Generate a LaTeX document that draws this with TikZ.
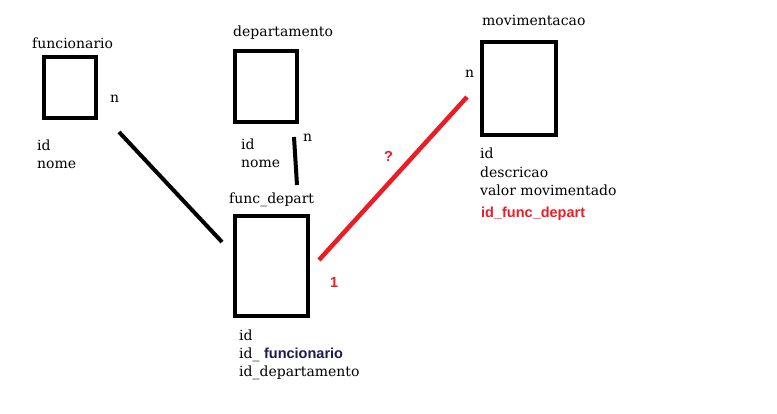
\documentclass[tikz,border=0pt]{standalone}
\usepackage{fontspec}
\setmainfont{DejaVu Serif}
\newfontfamily\boldsans{Liberation Sans}
\definecolor{paintred}{HTML}{ED1C24}
\definecolor{navy}{HTML}{1B1B50}
\begin{document}
\begin{tikzpicture}[x=1pt,y=-1pt,
		entity/.style={draw,line width=4pt,inner sep=0pt},
		label/.style={font=\fontsize{14}{17}\selectfont,inner sep=0pt,anchor=base west},
		redtxt/.style={font=\fontsize{14.5}{17}\selectfont\boldsans\bfseries,text=paintred,inner sep=0pt,anchor=base west},
		link/.style={line width=4pt},
		redlink/.style={line width=4.5pt,paintred}]
		\useasboundingbox (0,0) rectangle (777,413);
		
		\node[entity,minimum width=52pt,minimum height=61pt] (func) at (70,87.5) {};
		\node[entity,minimum width=62pt,minimum height=71pt] (dept) at (266,86.5) {};
		\node[entity,minimum width=73pt,minimum height=100pt] (fd) at (271.5,266) {};
		\node[entity,minimum width=74pt,minimum height=93pt] (mov) at (519,88.5) {};
		
		\node[label] (func-t) at (32,48) {funcionario};
		\node[label] (dept-t) at (233,36) {departamento};
		\node[label] (fd-t) at (229,203) {func\_depart};
		\node[label] (mov-t) at (482,25) {movimentacao};
		
		\node[label] (func-id) at (37,150) {id};
		\node[label] (func-nome) at (37,168) {nome};
		\node[label] (dept-id) at (241,149) {id};
		\node[label] (dept-nome) at (241,167) {nome};
		\node[label] (fd-id) at (239,340) {id};
		\node[label] (fd-func) at (239,358) {id\_ {\boldsans\bfseries\fontsize{14.5}{17}\selectfont\color{navy}funcionario}};
		\node[label] (fd-dept) at (239,376) {id\_departamento};
		\node[label] (mov-id) at (480,158) {id};
		\node[label] (mov-desc) at (480,177) {descricao};
		\node[label] (mov-valor) at (480,195) {valor movimentado};
		\node[redtxt] (mov-fd) at (481,217) {id\_func\_depart};
		
		\node[label] (n1) at (110,102) {n};
		\node[label] (n2) at (303,141) {n};
		\node[label] (n3) at (465,77) {n};
		\node[redtxt] (one) at (330,287) {1};
		\node[redtxt] (ask) at (384,161) {?};
		
		\coordinate (func-e) at (119,132);
		\coordinate (fd-w) at (222,242);
		\coordinate (dept-s) at (294,137);
		\coordinate (fd-n) at (297,185);
		\coordinate (fd-e) at (319,260);
		\coordinate (mov-w) at (467,97);
		
		\draw[link] (func-e) -- (fd-w);
		\draw[link] (dept-s) -- (fd-n);
		\draw[redlink] (fd-e) -- (mov-w);
	\end{tikzpicture}
\end{document}
